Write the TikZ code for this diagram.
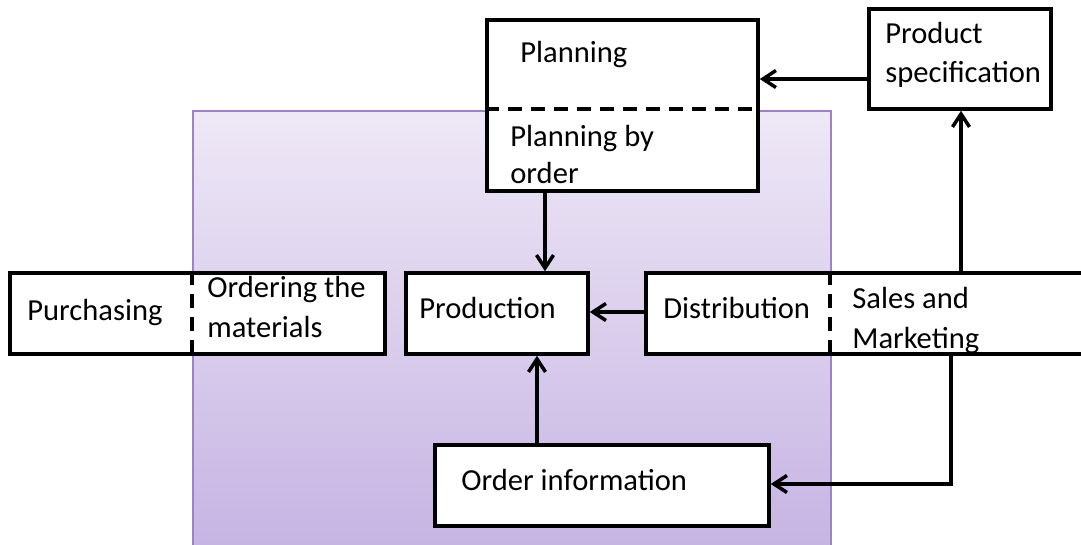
\documentclass[tikz,border=0pt]{standalone}
\usepackage{fontspec}
\setmainfont{Carlito}
\usetikzlibrary{arrows.meta,fit}
\definecolor{lavtop}{HTML}{EEE8F6}
\definecolor{lavbot}{HTML}{C4B1E2}
\definecolor{lavedge}{HTML}{9B83C4}

\begin{document}
\begin{tikzpicture}[x=0.02cm,y=-0.02cm,
  box/.style={draw, line width=0.07cm, fill=white, inner sep=0pt},
  lbl/.style={anchor=base west, inner sep=0pt, align=left,
    font=\fontsize{17.4pt}{22.3pt}\selectfont},
  sep/.style={line width=0.07cm, dash pattern=on 0.28cm off 0.18cm},
  arr/.style={line width=0.07cm, -{Straight Barb[length=0.26cm,width=0.34cm]}}]
\clip (0,0) rectangle (1081,544);

% shaded area behind the core functions
\node[fit={(193,111)(831,570)}, inner sep=0pt, draw=lavedge, line width=0.03cm,
  top color=lavtop, bottom color=lavbot] (zone) {};

% boxes
\node[box, fit={(487,20)(758,191)}] (plan) {};
\node[box, fit={(869,9)(1051,109)}] (spec) {};
\node[box, fit={(10,273)(385,354)}] (purch) {};
\node[box, fit={(406,273)(588,354)}] (prod) {};
\node[box, fit={(646,273)(1100,354)}] (dist) {};
\node[box, fit={(435,445)(769,526)}] (order) {};

% dashed dividers inside the split boxes
\coordinate (hdiv) at (0,109);
\coordinate (vdivA) at (192,0);
\coordinate (vdivB) at (830,0);
\draw[sep] (plan.west |- hdiv) -- (plan.east |- hdiv);
\draw[sep] (purch.north -| vdivA) -- (purch.south -| vdivA);
\draw[sep] (dist.north -| vdivB) -- (dist.south -| vdivB);

% labels (multi-line labels are placed by their last baseline)
\node[lbl] (tplan) at (520,63) {Planning};
\node[lbl] (tplanord) at (510,183) {Planning by\\[-0.06cm]order};
\node[lbl] (tspec) at (885,83) {Product\\specification};
\node[lbl] (tpurch) at (27,320) {Purchasing};
\node[lbl] (tmat) at (207,337) {Ordering the\\materials};
\node[lbl] (tprod) at (419,318) {Production};
\node[lbl] (tdist) at (663,318) {Distribution};
\node[lbl] (tsales) at (852,348) {Sales and\\Marketing};
\node[lbl] (torder) at (461,490) {Order information};

% connectors
\coordinate (rowA) at (0,79);
\coordinate (rowB) at (0,312);
\coordinate (rowC) at (0,484);
\coordinate (colA) at (545,0);
\coordinate (colB) at (537,0);
\coordinate (colC) at (961,0);
\coordinate (colD) at (951,0);
\draw[arr] (spec.west |- rowA) -- (plan.east |- rowA);
\draw[arr] (dist.north -| colC) -- (spec.south -| colC);
\draw[arr] (plan.south -| colA) -- (prod.north -| colA);
\draw[arr] (dist.west |- rowB) -- (prod.east |- rowB);
\draw[arr] (order.north -| colB) -- (prod.south -| colB);
\draw[arr] (dist.south -| colD) |- (order.east |- rowC);
\end{tikzpicture}
\end{document}
